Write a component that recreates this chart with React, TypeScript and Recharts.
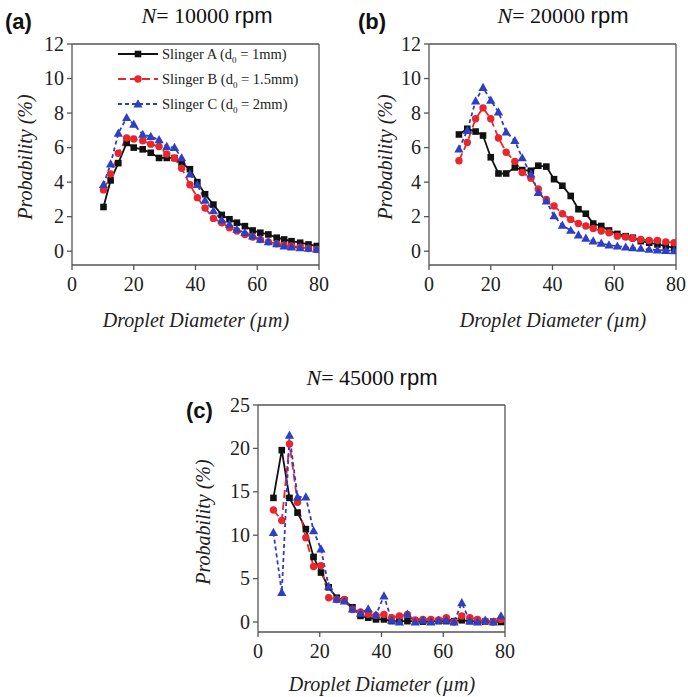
import React from "react";
import { LineChart, Line, XAxis, YAxis, ReferenceLine } from "recharts";

// droplet diameter bins (µm)
const xA = [10.2, 12.5, 15, 17.7, 20, 22.9, 25.5, 28.2, 30.7, 33.2, 35.5, 38.2, 40.6, 43.1, 45.8, 48.5, 51, 53.4, 56, 58.5, 61, 63.6, 66.3, 68.7, 71.1, 73.9, 76.6, 79.3];
const xB = [9.7, 12.4, 15.1, 17.5, 20, 22.5, 25, 27.8, 30.2, 33, 35.4, 38, 40.5, 43.2, 45.9, 48.4, 50.8, 53.2, 55.8, 58.3, 61, 63.7, 66, 68.6, 71.3, 74, 76.7, 79.4];
const xC = [5, 7.7, 10.2, 12.8, 15.5, 18, 20.4, 22.9, 25.5, 28, 30.6, 33.2, 35.7, 38.2, 40.8, 43.3, 45.8, 48.4, 50.9, 53.4, 56, 58.5, 61, 63.5, 66, 68.6, 71.1, 73.6, 76.2, 78.7];

// N = 10000 rpm
const a10k = [2.56, 4.1, 5.1, 6.27, 6.0, 5.9, 5.7, 5.4, 5.4, 5.4, 5.1, 4.75, 4.0, 3.3, 2.7, 2.1, 1.85, 1.65, 1.45, 1.2, 1.07, 0.97, 0.78, 0.68, 0.58, 0.49, 0.39, 0.3];
const b10k = [3.55, 4.47, 5.67, 6.56, 6.5, 6.4, 6.2, 6.06, 5.63, 5.38, 4.8, 3.85, 3.1, 2.5, 1.9, 1.65, 1.36, 1.17, 0.97, 0.82, 0.68, 0.54, 0.43, 0.35, 0.3, 0.23, 0.16, 0.1];
const c10k = [3.85, 5.05, 6.83, 7.73, 7.35, 6.76, 6.64, 6.45, 6.06, 6.0, 5.4, 4.47, 3.85, 2.95, 2.33, 1.8, 1.55, 1.26, 1.07, 0.87, 0.68, 0.54, 0.43, 0.3, 0.23, 0.2, 0.16, 0.1];

// N = 20000 rpm
const a20k = [6.76, 7.09, 6.93, 6.7, 5.44, 4.5, 4.5, 4.85, 4.7, 4.66, 4.95, 4.9, 4.17, 3.79, 3.2, 2.43, 2.17, 1.6, 1.46, 1.2, 1.0, 0.87, 0.78, 0.58, 0.49, 0.39, 0.29, 0.19];
const b20k = [5.24, 6.3, 7.67, 8.3, 7.67, 6.56, 5.73, 5.2, 4.56, 4.23, 3.6, 3.0, 2.62, 2.17, 1.84, 1.6, 1.46, 1.32, 1.17, 1.07, 0.87, 0.82, 0.74, 0.68, 0.62, 0.62, 0.54, 0.49];
const c20k = [5.92, 6.99, 8.7, 9.48, 8.74, 8.06, 6.9, 6.4, 5.4, 4.47, 3.4, 2.9, 2.04, 1.5, 1.2, 0.93, 0.74, 0.58, 0.45, 0.35, 0.29, 0.23, 0.19, 0.16, 0.1, 0.06, 0.04, 0.02];

// N = 45000 rpm
const a45k = [14.3, 19.8, 14.3, 12.6, 10.7, 7.5, 5.7, 4.0, 2.8, 2.5, 1.7, 0.7, 0.5, 0.3, 0.3, 0.1, 0.1, 0.1, 0.1, 0.05, 0.1, 0.1, 0.1, 0.1, 0.2, 0.1, 0.1, 0.05, 0.05, 0.0];
const b45k = [12.9, 11.7, 20.5, 13.8, 9.7, 6.4, 6.5, 2.8, 2.6, 2.6, 1.45, 1.15, 0.9, 0.77, 0.88, 0.5, 0.7, 0.88, 0.23, 0.3, 0.3, 0.23, 0.5, 0.0, 0.7, 0.5, 0.3, 0.1, 0.0, 0.3];
const c45k = [10.3, 3.4, 21.5, 14.4, 14.4, 10.5, 8.4, 4.1, 2.6, 2.4, 1.5, 1.0, 1.5, 0.8, 3.0, 0.2, 0.0, 0.9, 0.0, 0.2, 0.0, 0.2, 0.2, 0.0, 2.2, 0.1, 0.0, 0.2, 0.0, 0.7];

const xTicks = [0, 20, 40, 60, 80];
const yTicksLow = [0, 2, 4, 6, 8, 10, 12];
const yTicksHigh = [0, 5, 10, 15, 20, 25];

const SERIES = [
  { key: "a", name: "Slinger A", d0: "1mm", color: "#111111", dash: undefined, shape: "square" },
  { key: "b", name: "Slinger B", d0: "1.5mm", color: "#e8262b", dash: "8 4", shape: "circle" },
  { key: "c", name: "Slinger C", d0: "2mm", color: "#2d3fc2", dash: "4 3", shape: "triangle" },
];

const rows = (x: number[], a: number[], b: number[], c: number[]) =>
  x.map((v, i) => ({ x: v, a: a[i], b: b[i], c: c[i] }));

const SERIF = "Liberation Serif";
const SANS = "Liberation Sans";
const AXIS = "#555";

function Marker({ shape, cx, cy, color }: any) {
  if (cx == null || cy == null) return null;
  if (shape === "square") return <rect x={cx - 3.3} y={cy - 3.3} width={6.6} height={6.6} fill={color} />;
  if (shape === "circle") return <circle cx={cx} cy={cy} r={3.7} fill={color} />;
  return <polygon points={`${cx},${cy - 4.8} ${cx + 4.6},${cy + 3.4} ${cx - 4.6},${cy + 3.4}`} fill={color} />;
}

function XTick({ x, y, payload }: any) {
  return (
    <text x={x} y={y + 19} textAnchor="middle" fontFamily={SERIF} fontSize={20} fill="#222">
      {payload.value}
    </text>
  );
}

function YTick({ x, y, payload }: any) {
  return (
    <text x={x} y={y + 6.5} textAnchor="end" fontFamily={SERIF} fontSize={20} fill="#222">
      {payload.value}
    </text>
  );
}

function LegendBox({ left, top }: { left: number; top: number }) {
  return (
    <svg width={230} height={72} style={{ position: "absolute", left, top, overflow: "visible" }}>
      {SERIES.map((s, i) => {
        const y = 10 + i * 25;
        return (
          <g key={s.key}>
            <line x1={0} x2={40} y1={y} y2={y} stroke={s.color} strokeWidth={1.8} strokeDasharray={s.dash} />
            <Marker shape={s.shape} cx={20} cy={y} color={s.color} />
            <text x={44} y={y + 5} fontFamily={SERIF} fontSize={14.5} fill="#222">
              {s.name} (d<tspan fontSize={9} dy={4}>0</tspan>
              <tspan dy={-4}> = {s.d0})</tspan>
            </text>
          </g>
        );
      })}
    </svg>
  );
}

const YW = 40;
const PW = 247;
const MT = 14;

function Panel({ left, top, plotH, data, yDomain, yTicks }: any) {
  const W = YW + PW + 12;
  const H = plotH + 40 + MT;
  return (
    <div style={{ position: "absolute", left: left - YW, top: top - MT }}>
      <LineChart width={W} height={H} data={data} margin={{ top: MT, right: 12, bottom: 5, left: 0 }}>
        <XAxis
          dataKey="x"
          type="number"
          domain={[0, 80]}
          ticks={xTicks}
          interval={0}
          allowDataOverflow
          height={35}
          tickSize={5}
          stroke={AXIS}
          strokeWidth={1.3}
          tick={<XTick />}
        />
        <YAxis
          type="number"
          domain={yDomain}
          ticks={yTicks}
          interval={0}
          allowDataOverflow
          width={YW}
          tickSize={5}
          tickMargin={3}
          stroke={AXIS}
          strokeWidth={1.3}
          tick={<YTick />}
        />
        <ReferenceLine y={yDomain[1]} stroke={AXIS} strokeWidth={1.3} />
        <ReferenceLine x={80} stroke={AXIS} strokeWidth={1.3} />
        {SERIES.map((s) => (
          <Line
            key={s.key}
            dataKey={s.key}
            stroke={s.color}
            strokeWidth={1.8}
            strokeDasharray={s.dash}
            isAnimationActive={false}
            dot={(p: any) => <Marker key={`${s.key}-${p.index}`} shape={s.shape} cx={p.cx} cy={p.cy} color={s.color} />}
            activeDot={false}
          />
        ))}
      </LineChart>
    </div>
  );
}

function Title({ cx, cy, speed }: { cx: number; cy: number; speed: string }) {
  return (
    <div style={{ position: "absolute", left: cx - 150, top: cy - 11, width: 300, textAlign: "center", fontSize: 22, lineHeight: 1, color: "#111", whiteSpace: "nowrap" }}>
      <span style={{ fontFamily: SERIF, fontStyle: "italic" }}>N</span>
      <span style={{ fontFamily: SERIF }}>= {speed} </span>
      <span style={{ fontFamily: SANS }}>rpm</span>
    </div>
  );
}

function Tag({ x, y, t }: { x: number; y: number; t: string }) {
  return (
    <div style={{ position: "absolute", left: x, top: y, fontFamily: SANS, fontWeight: "bold", fontSize: 22, lineHeight: 1, color: "#111" }}>
      {t}
    </div>
  );
}

function XLabel({ cx, cy }: { cx: number; cy: number }) {
  return (
    <div style={{ position: "absolute", left: cx - 150, top: cy - 10, width: 300, textAlign: "center", fontFamily: SERIF, fontStyle: "italic", fontSize: 20, lineHeight: 1, color: "#222" }}>
      Droplet Diameter (µm)
    </div>
  );
}

function YLabel({ cx, cy }: { cx: number; cy: number }) {
  return (
    <div style={{ position: "absolute", left: cx, top: cy, transform: "translate(-50%, -50%) rotate(-90deg)", fontFamily: SERIF, fontStyle: "italic", fontSize: 20, lineHeight: 1, color: "#222", whiteSpace: "nowrap" }}>
      Probability (%)
    </div>
  );
}

export default function App() {
  return (
    <div style={{ position: "absolute", left: 0, top: 0, width: 688, height: 697, background: "#fff", overflow: "hidden" }}>
      <Panel left={72} top={44} plotH={221} data={rows(xA, a10k, b10k, c10k)} yDomain={[-0.8, 12]} yTicks={yTicksLow} />
      <Panel left={429} top={44} plotH={221} data={rows(xB, a20k, b20k, c20k)} yDomain={[-0.8, 12]} yTicks={yTicksLow} />
      <Panel left={258} top={405} plotH={227} data={rows(xC, a45k, b45k, c45k)} yDomain={[-1.15, 25]} yTicks={yTicksHigh} />

      <LegendBox left={118} top={44} />

      <Title cx={207} cy={16} speed="10000" />
      <Title cx={563} cy={16} speed="20000" />
      <Title cx={372} cy={378} speed="45000" />

      <Tag x={5} y={11} t="(a)" />
      <Tag x={358} y={11} t="(b)" />
      <Tag x={186} y={400} t="(c)" />

      <YLabel cx={25} cy={157} />
      <YLabel cx={385} cy={157} />
      <YLabel cx={203} cy={522} />

      <XLabel cx={196} cy={320} />
      <XLabel cx={553} cy={320} />
      <XLabel cx={382} cy={684} />
    </div>
  );
}
